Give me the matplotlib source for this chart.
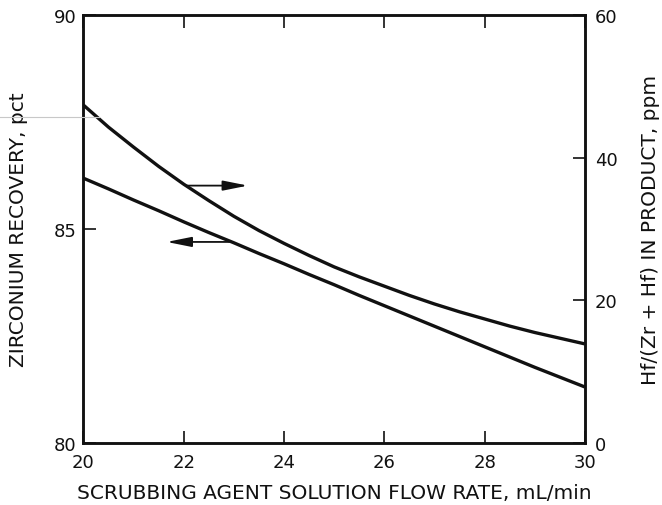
import matplotlib
matplotlib.use("Agg")
import matplotlib.pyplot as plt
from matplotlib.lines import Line2D

# Data
flow_rate = [20, 20.5, 21, 21.5, 22, 22.5, 23, 23.5, 24, 24.5, 25,
             25.5, 26, 26.5, 27, 27.5, 28, 28.5, 29, 29.5, 30]
zr_recovery = [86.19, 85.94, 85.68, 85.43, 85.17, 84.92, 84.68, 84.43, 84.19, 83.94, 83.70,
               83.45, 83.21, 82.97, 82.73, 82.49, 82.25, 82.01, 81.77, 81.54, 81.31]
hf_ppm = [47.4, 44.3, 41.5, 38.8, 36.3, 34.0, 31.8, 29.8, 28.0, 26.3, 24.7,
          23.3, 22.0, 20.7, 19.5, 18.4, 17.4, 16.4, 15.5, 14.7, 13.9]

x_ticks = [20, 22, 24, 26, 28, 30]
left_ticks = [80, 85, 90]
right_ticks = [0, 20, 40, 60]

plt.rcParams['font.family'] = ['DejaVu Sans']
ink = '#111111'

fig = plt.figure(figsize=(6.62, 5.06), dpi=100)
ax = fig.add_axes([0.126, 0.1225, 0.7575, 0.8455])
ax2 = ax.twinx()

lw = 2.4
ax.plot(flow_rate, zr_recovery, color=ink, lw=lw, solid_capstyle='butt',
        solid_joinstyle='round')
ax2.plot(flow_rate, hf_ppm, color=ink, lw=lw, solid_capstyle='butt',
         solid_joinstyle='round')

ax.set_xlim(20, 30)
ax.set_ylim(80, 90)
ax2.set_ylim(0, 60)

ax.set_xticks(x_ticks)
ax.set_yticks(left_ticks)
ax2.set_yticks(right_ticks)

ax.tick_params(axis='both', direction='in', length=9, width=1.2, labelsize=13,
               top=True, pad=5, colors=ink)
ax.tick_params(axis='x', pad=7)
ax2.tick_params(axis='y', direction='in', length=9, width=1.2, labelsize=13, pad=7,
                colors=ink)
ax2.tick_params(axis='x', top=True, direction='in', length=9)

for a in (ax, ax2):
    for s in a.spines.values():
        s.set_linewidth(1.8)
        s.set_color(ink)

ax.set_xlabel('SCRUBBING AGENT SOLUTION FLOW RATE, mL/min', fontsize=14.5,
              labelpad=9, color=ink)
ax.set_ylabel('ZIRCONIUM RECOVERY, pct', fontsize=14.5, labelpad=18.5, color=ink)
ax2.set_ylabel('Hf/(Zr + Hf) IN PRODUCT, ppm', fontsize=14.5, labelpad=17,
               color=ink)

# Arrows indicating which axis each curve belongs to
arrow_style = dict(arrowstyle='-|>,head_length=1.5,head_width=0.3', color=ink,
                   lw=1.3, shrinkA=0, shrinkB=0)
ax2.annotate('', xy=(23.28, 36.1), xytext=(22.06, 36.1), arrowprops=arrow_style)
ax.annotate('', xy=(21.66, 84.7), xytext=(22.91, 84.7), arrowprops=arrow_style)

# faint scan mark at left margin
fig.add_artist(Line2D([0.0, 0.15], [1 - 118 / 506, 1 - 118 / 506],
                      transform=fig.transFigure, color='#c8c8c8', lw=0.8))

fig.savefig('out.png', dpi=100)
